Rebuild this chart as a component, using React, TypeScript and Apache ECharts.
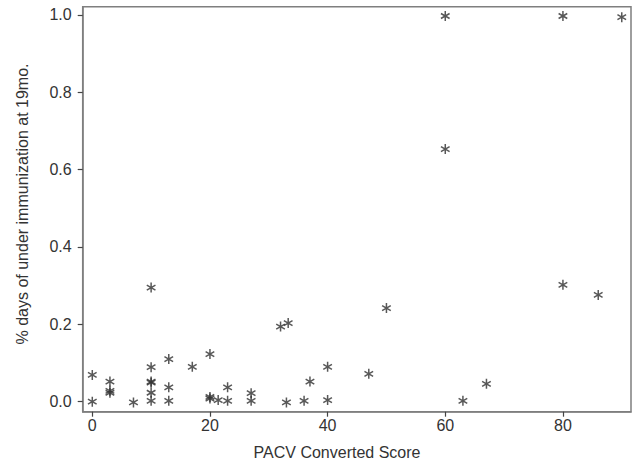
import React, { useEffect, useRef } from "react";
import * as echarts from "echarts";

const xTickValues = [0, 20, 40, 60, 80];
const yTickValues = [0, 0.2, 0.4, 0.6, 0.8, 1.0];
const xTitle = "PACV Converted Score";
const yTitle = "% days of under immunization at 19mo.";

const scores = [
  0, 0, 3, 3, 3, 7, 10, 10, 10, 10, 10, 10, 13, 13, 13, 17, 20, 20, 20, 21.4,
  23, 23, 27, 27, 32, 33.3, 33, 36, 37, 40, 40, 47, 50, 60, 60, 63, 67, 80, 80,
  86, 90,
];
const underImm = [
  0.069, 0.0, 0.052, 0.028, 0.023, -0.002, 0.295, 0.089, 0.052, 0.049, 0.023,
  0.002, 0.11, 0.037, 0.002, 0.09, 0.123, 0.012, 0.008, 0.004, 0.037, 0.002,
  0.022, 0.002, 0.194, 0.203, -0.002, 0.002, 0.052, 0.09, 0.004, 0.072, 0.242,
  0.997, 0.653, 0.002, 0.046, 0.997, 0.302, 0.276, 0.994,
];

const star = "path://M0,-5L0,5M-4.33,-2.5L4.33,2.5M-4.33,2.5L4.33,-2.5";

const FONT = "'Liberation Sans', Arial, sans-serif";

export default function App() {
  const ref = useRef<HTMLDivElement>(null);
  useEffect(() => {
    if (!ref.current) return;
    const chart = echarts.init(ref.current, null, { renderer: "svg" });
    const data = scores.map((x, i) => [x, underImm[i]]);
    chart.setOption({
      animation: false,
      backgroundColor: "#ffffff",
      grid: {
        left: 82.7,
        right: 8,
        top: 6.7,
        bottom: 55.3,
        show: true,
        borderColor: "#7f7f7f",
        borderWidth: 1.5,
        backgroundColor: "transparent",
      },
      xAxis: {
        type: "value",
        min: -1.63,
        max: 91.57,
        splitLine: { show: false },
        axisLine: {
          show: true,
          onZero: false,
          lineStyle: { color: "#7f7f7f", width: 1.5 },
        },
        axisTick: {
          show: true,
          length: 5,
          lineStyle: { color: "#444", width: 1.2 },
          customValues: xTickValues,
        },
        axisLabel: {
          customValues: xTickValues,
          margin: 6,
          color: "#333",
          fontSize: 16,
          fontFamily: FONT,
        },
      },
      yAxis: {
        type: "value",
        min: -0.026,
        max: 1.021,
        splitLine: { show: false },
        axisLine: {
          show: true,
          onZero: false,
          lineStyle: { color: "#7f7f7f", width: 1.5 },
        },
        axisTick: {
          show: true,
          length: 5,
          lineStyle: { color: "#444", width: 1.2 },
          customValues: yTickValues,
        },
        axisLabel: {
          customValues: yTickValues,
          margin: 11,
          color: "#333",
          fontSize: 16,
          fontFamily: FONT,
          formatter: (v: number) => v.toFixed(1),
        },
      },
      graphic: [
        {
          type: "text",
          x: 337,
          y: 452,
          style: {
            text: xTitle,
            fill: "#333",
            fontSize: 16,
            fontFamily: FONT,
            align: "center",
            verticalAlign: "middle",
          },
        },
        {
          type: "text",
          x: 22,
          y: 204,
          rotation: Math.PI / 2,
          style: {
            text: yTitle,
            fill: "#333",
            fontSize: 16,
            fontFamily: FONT,
            align: "center",
            verticalAlign: "middle",
          },
        },
      ],
      series: [
        {
          type: "scatter",
          data,
          symbol: star,
          symbolSize: 10,
          symbolKeepAspect: true,
          itemStyle: {
            color: "rgba(0,0,0,0)",
            borderColor: "#2e2e2e",
            borderWidth: 1.5,
          },
        },
      ],
    });
    return () => chart.dispose();
  }, []);
  return (
    <div
      ref={ref}
      style={{ position: "fixed", left: 0, top: 0, width: 639, height: 467 }}
    />
  );
}
